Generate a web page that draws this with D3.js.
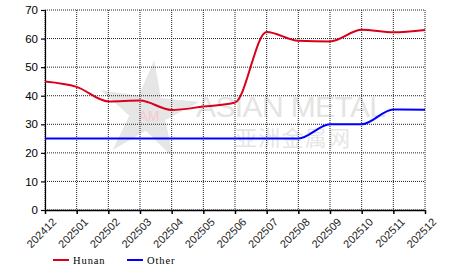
<!DOCTYPE html>
<html>
<head>
<meta charset="utf-8">
<script src="https://cdn.jsdelivr.net/npm/d3@7"></script>
<style>
body{margin:0;background:#fff;}
</style>
</head>
<body>
<div id="container"></div>
<script>
let months=["202412","202501","202502","202503","202504","202505","202506","202507","202508","202509","202510","202511","202512"];
let hunan=[45,43.1,38,38.3,35,36.2,37.6,62.3,59.2,59,63.1,62.2,63];
let other=[25,25,25,25,25,25,25,25,25,30,30,35.2,35.1];
let yTicks=[0,10,20,30,40,50,60,70];
let seriesNames=["Hunan","Other"];
let seriesColors=["#d9001b","#0000ff"];

let width=466, height=272;
let margin={left:45,top:10,right:41,bottom:62};

const svg=d3.select("#container").append("svg")
    .attr("width",width)
    .attr("height",height);

const xScale=d3.scalePoint()
    .domain(months)
    .range([margin.left,width-margin.right]);

const yScale=d3.scaleLinear()
    .domain([0,70])
    .range([height-margin.bottom,margin.top]);

// watermark
let wm=svg.append("g");
let starPts=[];
for(let i=0;i<10;i++){
    let r=(i%2==0)?52:19;
    let a=-Math.PI/2+i*Math.PI/5+0.12;
    starPts.push([148+r*Math.cos(a),112+r*Math.sin(a)]);
}
wm.append("polygon")
  .attr("points",starPts.map(p=>p.join(",")).join(" "))
  .attr("fill","#e6e6e6");
wm.append("text").attr("x",149).attr("y",121).attr("text-anchor","middle")
  .attr("font-family","Liberation Sans, Arial").attr("font-size",14)
  .attr("fill","#f6c9cc").text("AM");
wm.append("text").attr("x",196).attr("y",117)
  .attr("font-family","Liberation Sans, Arial").attr("font-size",30)
  .attr("textLength",190).attr("fill","#e4e4e4").text("ASIAN METAL");
wm.append("text").attr("x",235).attr("y",146)
  .attr("font-family","Noto Sans CJK SC").attr("font-size",22)
  .attr("textLength",115).attr("fill","#e6e6e6").text("亚洲金属网");

// grid
svg.append("g")
   .selectAll("line")
   .data(months)
   .enter()
   .append("line")
   .attr("x1",d=>xScale(d)).attr("x2",d=>xScale(d))
   .attr("y1",margin.top).attr("y2",height-margin.bottom)
   .attr("stroke","#222").attr("stroke-dasharray","1,1");

svg.append("g")
   .selectAll("line")
   .data(yTicks)
   .enter()
   .append("line")
   .attr("x1",margin.left).attr("x2",width-margin.right)
   .attr("y1",d=>yScale(d)).attr("y2",d=>yScale(d))
   .attr("stroke","#222").attr("stroke-dasharray","1,1");

// axes
const yAxis=d3.axisLeft(yScale).tickValues(yTicks).tickSize(4).tickPadding(3);
svg.append("g")
   .attr("transform","translate("+margin.left+",0)")
   .call(yAxis)
   .call(g=>g.selectAll("text").attr("font-family","Liberation Sans, Arial").attr("font-size",11.5).attr("fill","#000"))
   .call(g=>g.selectAll("line,path").attr("stroke","#000").attr("stroke-width",1.2));

const xAxis=d3.axisBottom(xScale).tickSize(4).tickSizeOuter(0);
svg.append("g")
   .attr("transform","translate(0,"+(height-margin.bottom)+")")
   .call(xAxis)
   .call(g=>g.selectAll("line,path").attr("stroke","#000").attr("stroke-width",1.5))
   .call(g=>g.selectAll("text")
       .attr("font-family","Liberation Sans, Arial")
       .attr("font-size",11)
       .attr("fill","#222")
       .attr("text-anchor","end")
       .attr("dy","0.35em")
       .attr("transform","translate(4,5) rotate(-45)"));

// lines
const line=d3.line()
    .x((d,i)=>xScale(months[i]))
    .y(d=>yScale(d))
    .curve(d3.curveMonotoneX);

[hunan,other].forEach((s,i)=>{
    svg.append("path")
       .attr("d",line(s))
       .attr("fill","none")
       .attr("stroke",seriesColors[i])
       .attr("stroke-width",2);
});

// legend
let legend=svg.append("g");
seriesNames.forEach((n,i)=>{
    let lx=53+i*74;
    legend.append("line")
          .attr("x1",lx).attr("x2",lx+16)
          .attr("y1",260).attr("y2",260)
          .attr("stroke",seriesColors[i]).attr("stroke-width",2);
    legend.append("text")
          .attr("x",lx+20).attr("y",264)
          .attr("font-family","Liberation Serif, Times New Roman")
          .attr("font-size",10.5)
          .attr("letter-spacing",0.9)
          .attr("fill","#000")
          .text(n);
});
</script>
</body>
</html>
